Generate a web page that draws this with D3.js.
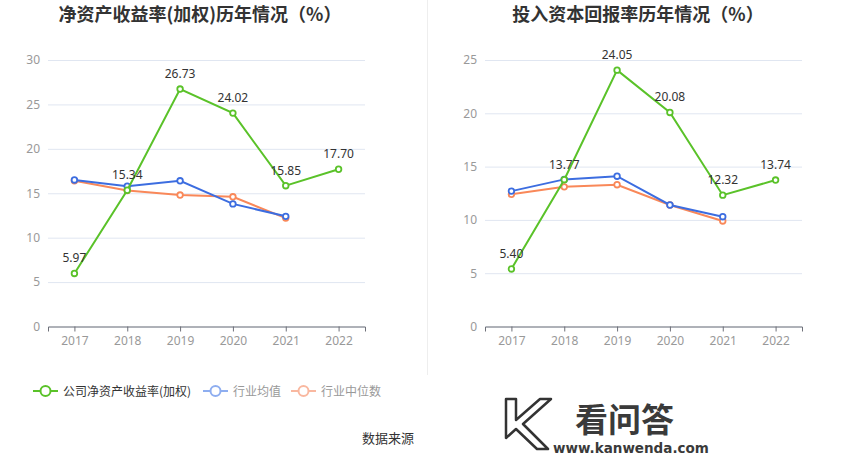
<!DOCTYPE html>
<html>
<head>
<meta charset="utf-8">
<script src="https://cdn.jsdelivr.net/npm/d3@7"></script>
<style>
  body { margin: 0; background: #fff; }
  svg { display: block; font-family: "Noto Sans CJK SC", "Noto Sans", sans-serif; }
</style>
</head>
<body>
<div id="chart"></div>
<script>
// data
const years = ['2017', '2018', '2019', '2020', '2021', '2022'];

const roeCompany = [5.97, 15.34, 26.73, 24.02, 15.85, 17.70];
const roeAvg = [16.5, 15.8, 16.4, 13.8, 12.4];
const roeMedian = [16.4, 15.3, 14.8, 14.6, 12.2];

const roicCompany = [5.40, 13.77, 24.05, 20.08, 12.32, 13.74];
const roicAvg = [12.7, 13.8, 14.1, 11.4, 10.3];
const roicMedian = [12.4, 13.1, 13.3, 11.4, 9.9];

const roeTicks = [0, 5, 10, 15, 20, 25, 30];
const roicTicks = [0, 5, 10, 15, 20, 25];

const legendNames = ['公司净资产收益率(加权)', '行业均值', '行业中位数'];

const green = '#5ac229', blue = '#3c6de0', orange = '#f98859';

const W = 850, H = 459;
const svg = d3.select('#chart').append('svg')
  .attr('width', W).attr('height', H);

// separator between the two panels
svg.append('line')
  .attr('x1', 427.5).attr('x2', 427.5).attr('y1', 0).attr('y2', 375)
  .attr('stroke', '#eeeeee');

function panel(opts) {
  var g = svg.append('g');
  var x = d3.scalePoint().domain(years).range([opts.left, opts.right]).padding(0.5);
  var y = d3.scaleLinear().domain([0, d3.max(opts.ticks)]).range([326.5, 60]);

  g.append('text')
    .attr('x', opts.titleX).attr('y', 21)
    .attr('text-anchor', 'middle')
    .attr('font-size', 18).attr('font-weight', 'bold')
    .attr('fill', '#333')
    .text(opts.title);

  // grid + y labels
  var yAxis = g.append('g')
    .attr('transform', 'translate(' + opts.left + ',0)')
    .call(d3.axisLeft(y).tickValues(opts.ticks).tickSize(-(opts.right - opts.left)).tickPadding(8));
  yAxis.select('.domain').remove();
  yAxis.selectAll('.tick line').attr('stroke', '#e0e6f1');
  yAxis.selectAll('.tick text').attr('fill', '#999').attr('font-size', 12)
    .attr('font-family', '"Noto Sans", sans-serif');

  var xAxis = g.append('g')
    .attr('transform', 'translate(0,326.5)')
    .call(d3.axisBottom(x).tickSizeOuter(0).tickSize(5).tickPadding(5));
  xAxis.select('.domain').attr('stroke', '#6e7079');
  xAxis.selectAll('.tick line').attr('stroke', '#6e7079');
  xAxis.selectAll('.tick text').attr('fill', '#999').attr('font-size', 12)
    .attr('font-family', '"Noto Sans", sans-serif');

  var line = d3.line().x(function (d, i) { return x(years[i]); }).y(function (d) { return y(d); });

  [[opts.median, orange], [opts.avg, blue], [opts.company, green]].forEach(function (s) {
    g.append('path').datum(s[0])
      .attr('d', line)
      .attr('fill', 'none').attr('stroke', s[1]).attr('stroke-width', 2);
    g.selectAll(null).data(s[0]).enter().append('circle')
      .attr('cx', function (d, i) { return x(years[i]); })
      .attr('cy', function (d) { return y(d); })
      .attr('r', 2.8)
      .attr('fill', '#fff').attr('stroke', s[1]).attr('stroke-width', 1.8);
  });

  g.selectAll(null).data(opts.company).enter().append('text')
    .attr('x', function (d, i) { return x(years[i]); })
    .attr('y', function (d) { return y(d) - 11; })
    .attr('text-anchor', 'middle')
    .attr('font-size', 12).attr('fill', '#333')
    .attr('font-family', '"Noto Sans", sans-serif')
    .text(function (d) { return d.toFixed(2); });
}

panel({ title: '净资产收益率(加权)历年情况（%）', titleX: 200, left: 48, right: 365,
  ticks: roeTicks, company: roeCompany, avg: roeAvg, median: roeMedian });
panel({ title: '投入资本回报率历年情况（%）', titleX: 638, left: 485, right: 802,
  ticks: roicTicks, company: roicCompany, avg: roicAvg, median: roicMedian });

// legend
var legendColors = [green, '#8eaef0', '#f9b8a0'];
var legendText = ['#333', '#999', '#999'];
var legendX = [33, 203, 291];
legendNames.forEach(function (name, i) {
  var lg = svg.append('g').attr('transform', 'translate(' + legendX[i] + ',391)');
  lg.append('line').attr('x1', 0).attr('x2', 25).attr('y1', 0).attr('y2', 0)
    .attr('stroke', legendColors[i]).attr('stroke-width', 2);
  lg.append('circle').attr('cx', 12.5).attr('cy', 0).attr('r', 5)
    .attr('fill', '#fff').attr('stroke', legendColors[i]).attr('stroke-width', 2);
  lg.append('text').attr('x', 30).attr('y', 4.5)
    .attr('font-size', 12).attr('fill', legendText[i])
    .text(name);
});

svg.append('text')
  .attr('x', 362).attr('y', 443)
  .attr('font-size', 13).attr('fill', '#333')
  .text('数据来源');

// watermark
var wm = svg.append('g');
wm.append('path')
  .attr('d', 'M506,399 L516,399 L516,420 L540,399 L551,399 L523,424 L548,449 L537,449 L516,429 L506,438 Z')
  .attr('fill', '#fff').attr('stroke', '#333').attr('stroke-width', 2.5)
  .attr('stroke-linejoin', 'round');
wm.append('text')
  .attr('x', 575).attr('y', 432)
  .attr('font-size', 33).attr('font-weight', 'bold').attr('fill', '#3a3a3a')
  .text('看问答');
wm.append('text')
  .attr('x', 553).attr('y', 453)
  .attr('font-size', 13.5).attr('font-weight', 'bold').attr('fill', '#3a3a3a')
  .attr('font-family', '"DejaVu Sans", sans-serif')
  .text('www.kanwenda.com');
</script>
</body>
</html>
